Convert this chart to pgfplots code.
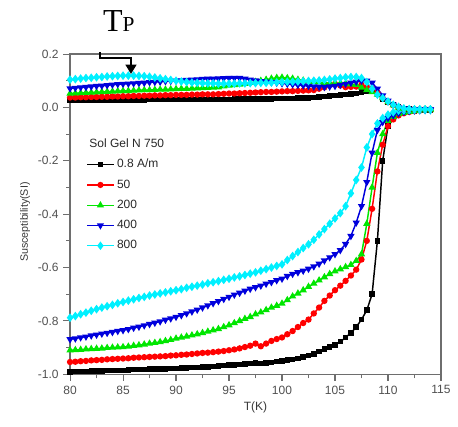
\documentclass[border=0pt]{standalone}
\usepackage{fontspec}
\setmainfont{Liberation Sans}
\newfontfamily\seriffont{Liberation Serif}
\usepackage{pgfplots}
\usepackage{pgfplotstable}
\usetikzlibrary{arrows.meta}
\pgfplotsset{compat=1.18}
\definecolor{cgreen}{RGB}{0,230,0}
\definecolor{cblue}{RGB}{0,0,220}
\definecolor{ccyan}{RGB}{0,240,255}
\definecolor{cred}{RGB}{255,0,0}
\definecolor{axgray}{RGB}{110,110,110}
\definecolor{txgray}{RGB}{80,80,80}
\pgfplotstableread{
T     blo     bhi     rlo     rhi     glo     ghi     ulo     uhi     clo     chi
80    -0.991  0.027   -0.954  0.037   -0.910  0.052   -0.869  0.071   -0.788  0.104
80.5  -0.990  0.027   -0.953  0.037   -0.909  0.053   -0.866  0.073   -0.782  0.106
81    -0.990  0.027   -0.951  0.038   -0.908  0.054   -0.862  0.075   -0.775  0.108
81.5  -0.989  0.027   -0.950  0.038   -0.906  0.055   -0.859  0.076   -0.769  0.110
82    -0.988  0.027   -0.948  0.039   -0.905  0.056   -0.855  0.078   -0.762  0.111
82.5  -0.988  0.028   -0.947  0.039   -0.904  0.057   -0.852  0.080   -0.756  0.113
83    -0.987  0.028   -0.946  0.040   -0.903  0.058   -0.848  0.081   -0.750  0.114
83.5  -0.986  0.028   -0.944  0.040   -0.901  0.059   -0.845  0.083   -0.745  0.116
84    -0.986  0.028   -0.943  0.041   -0.900  0.060   -0.842  0.085   -0.740  0.117
84.5  -0.985  0.028   -0.942  0.041   -0.899  0.061   -0.838  0.087   -0.734  0.118
85    -0.985  0.028   -0.941  0.042   -0.898  0.062   -0.835  0.088   -0.729  0.119
85.5  -0.984  0.028   -0.940  0.042   -0.896  0.062   -0.831  0.089   -0.724  0.119
86    -0.983  0.028   -0.938  0.043   -0.893  0.063   -0.826  0.090   -0.719  0.119
86.5  -0.983  0.028   -0.937  0.043   -0.891  0.064   -0.822  0.091   -0.714  0.118
87    -0.982  0.028   -0.936  0.044   -0.888  0.065   -0.817  0.092   -0.710  0.117
87.5  -0.981  0.029   -0.935  0.044   -0.885  0.065   -0.812  0.094   -0.705  0.115
88    -0.981  0.029   -0.934  0.045   -0.882  0.066   -0.807  0.095   -0.701  0.112
88.5  -0.980  0.029   -0.933  0.045   -0.879  0.067   -0.802  0.096   -0.697  0.109
89    -0.980  0.029   -0.932  0.046   -0.875  0.067   -0.796  0.098   -0.693  0.106
89.5  -0.979  0.029   -0.930  0.046   -0.871  0.068   -0.791  0.099   -0.689  0.103
90    -0.978  0.029   -0.929  0.047   -0.866  0.069   -0.785  0.100   -0.685  0.100
90.5  -0.977  0.029   -0.927  0.047   -0.862  0.070   -0.779  0.101   -0.681  0.097
91    -0.976  0.029   -0.926  0.047   -0.858  0.070   -0.772  0.103   -0.676  0.095
91.5  -0.975  0.029   -0.924  0.048   -0.854  0.071   -0.765  0.104   -0.672  0.093
92    -0.974  0.030   -0.922  0.048   -0.850  0.072   -0.758  0.105   -0.668  0.092
92.5  -0.973  0.030   -0.920  0.049   -0.845  0.073   -0.750  0.106   -0.664  0.091
93    -0.972  0.030   -0.919  0.049   -0.840  0.074   -0.742  0.107   -0.659  0.090
93.5  -0.970  0.030   -0.917  0.049   -0.835  0.075   -0.734  0.107   -0.655  0.090
94    -0.969  0.030   -0.915  0.050   -0.830  0.076   -0.726  0.108   -0.651  0.089
94.5  -0.967  0.030   -0.913  0.051   -0.823  0.079   -0.718  0.109   -0.646  0.089
95    -0.966  0.030   -0.910  0.052   -0.816  0.082   -0.710  0.110   -0.642  0.089
95.5  -0.965  0.031   -0.907  0.052   -0.808  0.084   -0.702  0.110   -0.637  0.089
96    -0.964  0.031   -0.903  0.053   -0.800  0.086   -0.695  0.110   -0.633  0.090
96.5  -0.962  0.031   -0.898  0.054   -0.792  0.089   -0.687  0.107   -0.628  0.090
97    -0.960  0.031   -0.893  0.055   -0.785  0.092   -0.680  0.104   -0.623  0.091
97.5  -0.957  0.032   -0.885  0.056   -0.775  0.096   -0.674  0.101   -0.618  0.091
98    -0.960  0.032   -0.895  0.057   -0.768  0.100   -0.668  0.098   -0.612  0.092
98.5  -0.958  0.032   -0.885  0.058   -0.759  0.104   -0.661  0.096   -0.606  0.092
99    -0.955  0.032   -0.875  0.058   -0.750  0.108   -0.655  0.094   -0.600  0.093
99.5  -0.953  0.033   -0.868  0.059   -0.743  0.111   -0.648  0.092   -0.594  0.094
100   -0.950  0.033   -0.862  0.060   -0.735  0.112   -0.642  0.090   -0.588  0.095
100.5 -0.947  0.034   -0.850  0.061   -0.722  0.110   -0.632  0.088   -0.572  0.096
101   -0.944  0.034   -0.838  0.061   -0.708  0.108   -0.624  0.086   -0.557  0.096
101.5 -0.940  0.035   -0.823  0.062   -0.697  0.104   -0.618  0.084   -0.542  0.097
102   -0.935  0.035   -0.808  0.063   -0.685  0.101   -0.612  0.082   -0.527  0.098
102.5 -0.930  0.036   -0.795  0.064   -0.672  0.098   -0.605  0.080   -0.513  0.099
103   -0.924  0.037   -0.772  0.065   -0.660  0.096   -0.596  0.078   -0.496  0.100
103.5 -0.915  0.039   -0.750  0.070   -0.648  0.094   -0.586  0.077   -0.476  0.101
104   -0.905  0.041   -0.725  0.075   -0.636  0.092   -0.574  0.076   -0.456  0.103
104.5 -0.897  0.043   -0.705  0.085   -0.624  0.091   -0.562  0.078   -0.436  0.105
105   -0.890  0.045   -0.685  0.088   -0.614  0.090   -0.550  0.080   -0.416  0.108
105.5 -0.878  0.047   -0.668  0.082   -0.606  0.090   -0.535  0.084   -0.396  0.110
106   -0.862  0.048   -0.650  0.076   -0.598  0.089   -0.512  0.088   -0.370  0.113
106.5 -0.845  0.050   -0.630  0.077   -0.590  0.087   -0.482  0.092   -0.322  0.114
107   -0.823  0.053   -0.608  0.078   -0.575  0.085   -0.432  0.096   -0.272  0.114
107.5 -0.795  0.057   -0.570  0.085   -0.550  0.075   -0.370  0.100   -0.225  0.110
108   -0.760  0.060   -0.500  0.075   -0.436  0.065   -0.280  0.100   -0.150  0.095
108.5 -0.700  0.062   -0.380  0.070   -0.300  0.058   -0.170  0.092   -0.100  0.070
109   -0.500  0.050   -0.240  0.055   -0.170  0.048   -0.085  0.070   -0.060  0.048
109.5 -0.200  0.032   -0.140  0.035   -0.100  0.035   -0.055  0.045   -0.040  0.035
110   -0.070  0.020   -0.070  0.020   -0.050  0.020   -0.040  0.025   -0.027  0.022
110.5 -0.036  0.010   -0.045  0.008   -0.035  0.008   -0.030  0.010   -0.018  0.010
111   -0.025  0.002   -0.030  0.000   -0.025  0.000   -0.022  0.000   -0.012  0.002
111.5 -0.020  -0.004  -0.022  -0.005  -0.020  -0.005  -0.017  -0.004  -0.011  -0.004
112   -0.016  -0.006  -0.017  -0.007  -0.016  -0.007  -0.014  -0.006  -0.010  -0.006
112.5 -0.013  -0.007  -0.014  -0.007  -0.013  -0.007  -0.012  -0.007  -0.010  -0.007
113   -0.011  -0.007  -0.012  -0.007  -0.011  -0.007  -0.011  -0.007  -0.010  -0.007
113.5 -0.010  -0.007  -0.010  -0.007  -0.010  -0.007  -0.010  -0.007  -0.010  -0.007
114   -0.010  -0.007  -0.010  -0.007  -0.010  -0.007  -0.010  -0.007  -0.010  -0.007
}\datatable
\begin{document}
\begin{tikzpicture}
\begin{axis}[
  scale only axis,
  width=278pt, height=240pt,
  xmin=80, xmax=115, ymin=-1.0, ymax=0.2,
  xtick={80,85,...,115}, ytick={-1.0,-0.8,...,0.2},
  minor x tick num=1, minor y tick num=1,
  tick align=outside, tick pos=left,
  major tick length=5pt, minor tick length=3pt,
  axis line style={axgray, line width=0.9pt},
  every tick/.style={axgray, line width=0.8pt},
  clip=false,
  tick label style={font=\fontsize{9}{10}\selectfont, text=txgray},
  /pgf/number format/assume math mode=true,
  yticklabel style={/pgf/number format/.cd, fixed, fixed zerofill, precision=1},
  xticklabel style={/pgf/number format/.cd, fixed, precision=0},
  xlabel={T(K)}, ylabel={Susceptibility(SI)},
  xlabel style={font=\fontsize{9}{10}\selectfont, text=txgray!70!black, yshift=1pt},
  ylabel style={font=\fontsize{8}{10}\selectfont, text=txgray!70!black, yshift=-1pt, xshift=-6pt},
  legend style={draw=none, fill=none, at={(0.04,0.685)}, anchor=north west,
    font=\fontsize{9}{10}\selectfont, text=txgray!50!black, row sep=3.4pt,
    inner sep=1pt},
  legend cell align=left,
  legend image code/.code={\draw[mark repeat=2,mark phase=2,#1] plot coordinates {(0cm,0cm) (0.35cm,0cm) (0.7cm,0cm)};},
  legend image post style={line width=1pt},
  every axis plot/.append style={line width=1.1pt},
]
\addplot[black, mark=square*, mark size=1.5pt] table[x=T,y=blo]{\datatable};
\addlegendentry{0.8 A/m}
\addplot[cred, mark=*, mark size=1.8pt] table[x=T,y=rlo]{\datatable};
\addlegendentry{50}
\addplot[cgreen, mark=triangle*, mark size=2.1pt] table[x=T,y=glo]{\datatable};
\addlegendentry{200}
\addplot[cblue, mark=triangle*, mark options={rotate=180}, mark size=2.1pt] table[x=T,y=ulo]{\datatable};
\addlegendentry{400}
\addplot[ccyan, mark=diamond*, mark size=2.4pt] table[x=T,y=clo]{\datatable};
\addlegendentry{800}
\addplot[black, mark=square*, mark size=1.5pt, forget plot] table[x=T,y=bhi]{\datatable};
\addplot[cred, mark=*, mark size=1.8pt, forget plot] table[x=T,y=rhi]{\datatable};
\addplot[cgreen, mark=triangle*, mark size=2.1pt, forget plot] table[x=T,y=ghi]{\datatable};
\addplot[cblue, mark=triangle*, mark options={rotate=180}, mark size=2.1pt, forget plot] table[x=T,y=uhi]{\datatable};
\addplot[ccyan, mark=diamond*, mark size=2.4pt, forget plot] table[x=T,y=chi]{\datatable};
\node[anchor=base west, font=\fontsize{9}{10}\selectfont, text=txgray!50!black, inner sep=0pt] at (axis cs:81.8,-0.152) {Sol Gel N 750};
\draw[black, line width=1.5pt, -{Triangle[width=8pt,length=7pt]}] (axis cs:82.83,0.2075) -- (axis cs:82.83,0.185) -- (axis cs:85.75,0.185) -- (axis cs:85.75,0.125);
\node[anchor=base west, inner sep=0pt, font=\seriffont] at (axis cs:83.1,0.286) {\fontsize{24}{24}\selectfont T\fontsize{16}{16}\selectfont P};
\coordinate (bl) at (rel axis cs:0,0);
\coordinate (tr) at (rel axis cs:1,1);
\end{axis}
\pgfresetboundingbox
\path[use as bounding box] ([shift={(-52.5pt,-39pt)}]bl) rectangle ([shift={(12.75pt,40.5pt)}]tr);
\end{tikzpicture}
\end{document}
